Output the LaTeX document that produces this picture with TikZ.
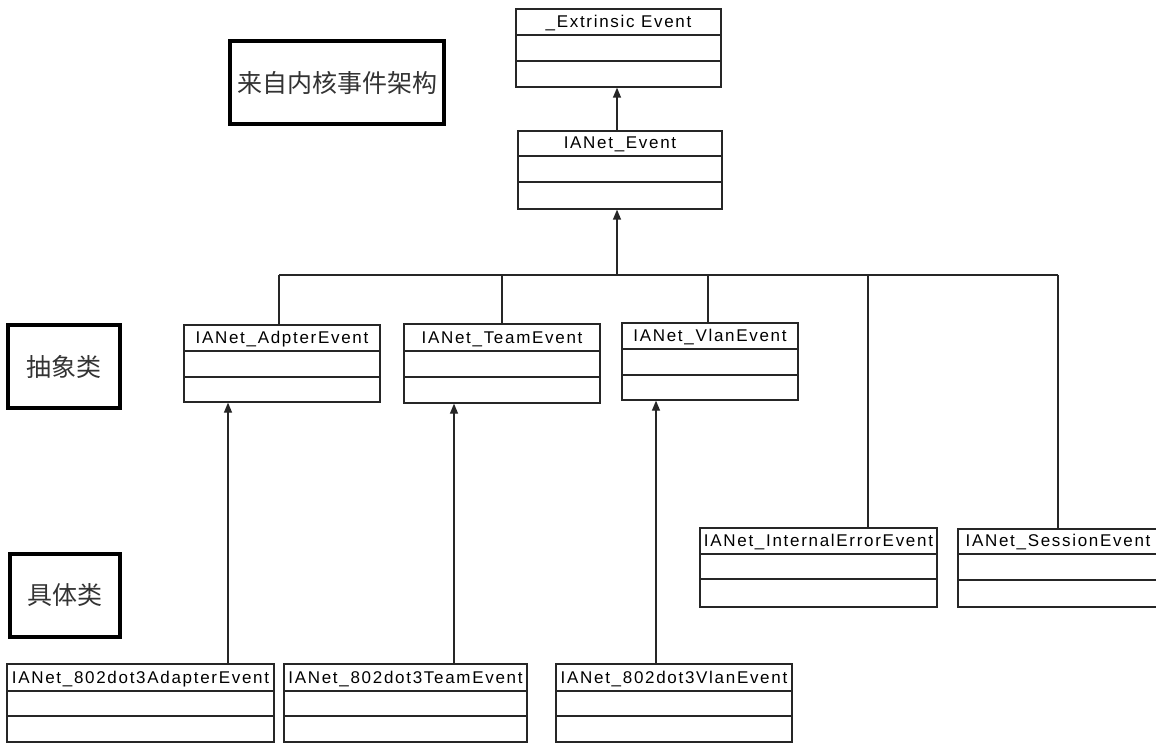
\documentclass[tikz,border=0pt]{standalone}
\usepackage{fontspec}
\usetikzlibrary{arrows.meta}
\newfontfamily\umlfont[LetterSpace=10]{Liberation Sans}
\newfontfamily\cjkfont{Noto Sans CJK SC}

\tikzset{
  classbox/.style={draw=black!85, line width=1.3pt, fill=white, inner sep=0pt, rectangle},
  classline/.style={draw=black!85, line width=1.3pt},
  classtitle/.style={font=\umlfont\fontsize{17}{18}\selectfont, inner sep=0pt, anchor=base},
  labelbox/.style={draw=black, line width=3.5pt, inner sep=0pt, rectangle,
    font=\cjkfont\fontsize{25}{27}\selectfont, text=black!80},
  link/.style={draw=black!85, line width=1.3pt},
  inherit/.style={link, -{Triangle[length=10pt,width=8pt]}},
}

% class box: name, left, top, right, bottom, divider 1, divider 2, title
\newcommand\classbox[8]{%
  \node[classbox, minimum width={#4-#2}, minimum height={#5-#3}] (#1)
    at ({(#2+#4)/2},{(#3+#5)/2}) {};
  \draw[classline] (#2,#6) -- (#4,#6) (#2,#7) -- (#4,#7);
  \node[classtitle] (#1-t) at ({(#2+#4)/2},{#6-7.5}) {#8};
}
% caption box: name, left, top, right, bottom, text
\newcommand\captionbox[6]{%
  \node[labelbox, minimum width={#4-#2}, minimum height={#5-#3}] (#1)
    at ({(#2+#4)/2},{(#3+#5)/2}) {#6};
}

\begin{document}
\begin{tikzpicture}[x=1pt, y=-1pt]
  \useasboundingbox[fill=white] (0,0) rectangle (1156,743);

  % captions
  \captionbox{kernel}{230}{41}{444}{124}{来自内核事件架构}
  \captionbox{abstract}{8}{325}{120}{408}{抽象类}
  \captionbox{concrete}{10}{554}{120}{637}{具体类}

  % class boxes
  \classbox{ext}{516}{9}{721}{87}{35}{61}{\_Extrinsic Event}
  \classbox{ev}{518}{131}{722}{209}{156}{182}{IANet\_Event}
  \classbox{adp}{184}{325}{380}{402}{351}{377}{IANet\_AdpterEvent}
  \classbox{team}{404}{324}{600}{403}{351}{377}{IANet\_TeamEvent}
  \classbox{vlan}{622}{323}{798}{400}{349}{375}{IANet\_VlanEvent}
  \classbox{interr}{700}{528}{937}{607}{554}{579}{IANet\_InternalErrorEvent}
  \classbox{sess}{958}{529}{1158}{607}{554}{580}{IANet\_SessionEvent}
  \classbox{adp3}{7}{664}{274}{742}{691}{716}{IANet\_802dot3AdapterEvent}
  \classbox{team3}{284}{664}{527}{742}{691}{716}{IANet\_802dot3TeamEvent}
  \classbox{vlan3}{556}{664}{792}{742}{691}{716}{IANet\_802dot3VlanEvent}

  % junction points
  \coordinate (bus) at (617,275);
  \coordinate (jadp) at (279,275);
  \coordinate (jteam) at (502,275);
  \coordinate (jvlan) at (708,275);
  \coordinate (jint) at (868,275);
  \coordinate (jsess) at (1058,275);
  \coordinate (xadp) at (228,0);
  \coordinate (xteam) at (454,0);
  \coordinate (xvlan) at (656,0);

  % inheritance
  \draw[inherit] (ev.north -| bus) -- (ext.south -| bus);
  \draw[inherit] (bus) -- (ev.south -| bus);
  \draw[link] (jadp) -- (jsess);
  \draw[link] (jadp) -- (jadp |- adp.north);
  \draw[link] (jteam) -- (jteam |- team.north);
  \draw[link] (jvlan) -- (jvlan |- vlan.north);
  \draw[link] (jint) -- (jint |- interr.north);
  \draw[link] (jsess) -- (jsess |- sess.north);
  \draw[inherit] (adp3.north -| xadp) -- (adp.south -| xadp);
  \draw[inherit] (team3.north -| xteam) -- (team.south -| xteam);
  \draw[inherit] (vlan3.north -| xvlan) -- (vlan.south -| xvlan);
\end{tikzpicture}
\end{document}
